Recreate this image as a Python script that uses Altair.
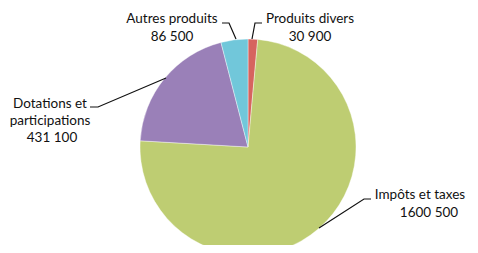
import altair as alt
import pandas as pd

# Slice data (clockwise from 12 o'clock)
categories = ["Produits divers", "Impôts et taxes", "Dotations et participations", "Autres produits"]
values = [30900, 1600500, 431100, 86500]
colors = ["#D6645F", "#BECD72", "#9A80B8", "#71C7DA"]

# Label text lines and their anchor positions (plot pixels)
label_text = ["Autres produits", "86 500", "Produits divers", "30 900",
              "Dotations et", "participations", "431 100",
              "Impôts et taxes", "1600 500"]
label_x = [164, 164, 302, 302, 42, 42, 44, 412, 421]
label_y = [11, 29, 11, 29, 96, 113, 130, 187, 205]

# Leader lines (polyline points, plot pixels)
leader_id = [0, 0, 0, 1, 1, 1, 2, 2, 2, 3, 3, 3]
leader_x = [214, 221, 228, 244, 247, 254, 82, 90, 158, 311, 356, 363]
leader_y = [15, 15, 31, 31, 15, 15, 99, 99, 70, 220, 191, 191]

pie_df = pd.DataFrame({"cat": categories, "val": values, "ord": list(range(len(values)))})
lab_df = pd.DataFrame({"t": label_text, "x": label_x, "y": label_y})
lead_df = pd.DataFrame({"g": leader_id, "x": leader_x, "y": leader_y, "o": list(range(len(leader_x)))})

pie = alt.Chart(pie_df).mark_arc(outerRadius=108, stroke="white", strokeWidth=0.4).encode(
    theta=alt.Theta("val:Q", stack=True),
    order=alt.Order("ord:Q"),
    color=alt.Color("cat:N", scale=alt.Scale(domain=categories, range=colors), legend=None),
    x=alt.value(240),
    y=alt.value(139),
)

labels = alt.Chart(lab_df).mark_text(font="Lato", fontSize=13.5, color="#111", align="center", baseline="middle").encode(
    x=alt.X("x:Q", scale=None, axis=None),
    y=alt.Y("y:Q", scale=None, axis=None),
    text="t:N",
)

leaders = alt.Chart(lead_df).mark_line(color="#111", strokeWidth=1.2).encode(
    x=alt.X("x:Q", scale=None, axis=None),
    y=alt.Y("y:Q", scale=None, axis=None),
    detail="g:N",
    order="o:Q",
)

chart = alt.layer(pie, leaders, labels).properties(
    width=462, height=237, autosize=alt.AutoSizeParams(type="none"), padding=0
).configure(background="white").configure_view(stroke=None)

chart.save("out.html", embed_options={"renderer": "svg", "actions": False})
